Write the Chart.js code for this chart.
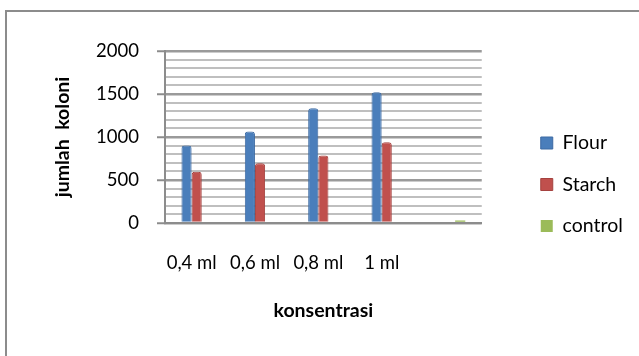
<!DOCTYPE html>
<html>
<head>
<meta charset="utf-8">
<script src="https://cdn.jsdelivr.net/npm/chart.js@4/dist/chart.umd.min.js"></script>
<style>
  html, body { margin: 0; padding: 0; background: #ffffff; overflow: hidden; }
  #wrap { position: relative; width: 639px; height: 356px; overflow: hidden; }
  #frame { position: absolute; left: 5px; top: 10px; width: 700px; height: 420px; border: 2px solid #8c8c8c; box-sizing: border-box; }
  #chart { position: absolute; left: 0; top: 0; }
</style>
</head>
<body>
<div id="wrap">
  <div id="frame"></div>
  <canvas id="chart" width="639" height="356"></canvas>
</div>
<script>
// Colony counts per concentration
const categories = ['0,4 ml', '0,6 ml', '0,8 ml', '1 ml', ''];
const flour   = [900, 1065, 1335, 1520, null];
const starch  = [595, 695, 785, 940, null];
const control = [null, null, null, null, 30];
const yLabelled = [0, 500, 1000, 1500, 2000];

const FONT = 'Lato, "Open Sans", "Noto Sans", sans-serif';

const isMajor = v => yLabelled.includes(v);

new Chart(document.getElementById('chart'), {
  type: 'bar',
  data: {
    labels: categories,
    datasets: [
      { label: 'Flour',   data: flour,   backgroundColor: '#4a7ebb', borderColor: '#3c6aa3', borderWidth: 1, borderRadius: { topLeft: 3, topRight: 3 }, borderSkipped: 'bottom' },
      { label: 'Starch',  data: starch,  backgroundColor: '#c0504d', borderColor: '#a5423f', borderWidth: 1, borderRadius: { topLeft: 3, topRight: 3 }, borderSkipped: 'bottom' },
      { label: 'control', data: control, backgroundColor: '#9bbb59', borderColor: '#9bbb59', borderWidth: 0 }
    ]
  },
  options: {
    responsive: false,
    animation: false,
    devicePixelRatio: 1,
    layout: { padding: { left: 0, right: 16.5, top: 13, bottom: 0 } },
    datasets: { bar: { categoryPercentage: 0.48, barPercentage: 1.0 } },
    scales: {
      x: {
        grid: { display: false, drawTicks: false },
        border: { display: true, color: '#8c8c8c', width: 2 },
        ticks: { color: '#000000', font: { family: FONT, size: 18.5 }, padding: 29, labelOffset: -5, maxRotation: 0 },
        title: { display: true, text: 'konsentrasi', color: '#000000', font: { family: FONT, size: 19.5, weight: 'bold' }, padding: { top: 0, bottom: 34 } },
        afterFit(scale) { scale.height = 133; }
      },
      y: {
        min: 0,
        max: 2000,
        grid: {
          color: ctx => (ctx.tick && isMajor(ctx.tick.value)) ? '#9a9a9a' : '#bfbfbf',
          lineWidth: ctx => (ctx.tick && isMajor(ctx.tick.value)) ? 2.5 : 2,
          tickColor: ctx => (ctx.tick && isMajor(ctx.tick.value)) ? '#8c8c8c' : 'rgba(0,0,0,0)',
          tickLength: 8,
          tickWidth: 2
        },
        border: { display: true, color: '#8c8c8c', width: 2 },
        ticks: {
          stepSize: 100,
          autoSkip: false,
          color: '#000000',
          font: { family: FONT, size: 18.5 },
          padding: 18,
          callback: v => isMajor(v) ? String(v) : ''
        },
        title: { display: true, text: 'jumlah  koloni', color: '#000000', font: { family: FONT, size: 19.5, weight: 'bold' }, padding: { top: 51, bottom: 0 } },
        afterFit(scale) { scale.width = 165; scale.paddingTop = 51; }
      },
      gap: {
        position: 'right',
        display: true,
        grid: { display: false, drawTicks: false },
        border: { display: false },
        ticks: { display: false },
        afterFit(scale) { scale.width = 37; }
      }
    },
    plugins: {
      tooltip: { enabled: false },
      legend: {
        position: 'right',
        labels: {
          color: '#000000',
          font: { family: FONT, size: 19.5 },
          boxWidth: 12,
          boxHeight: 12,
          padding: 22
        }
      }
    }
  }
});
</script>
</body>
</html>
